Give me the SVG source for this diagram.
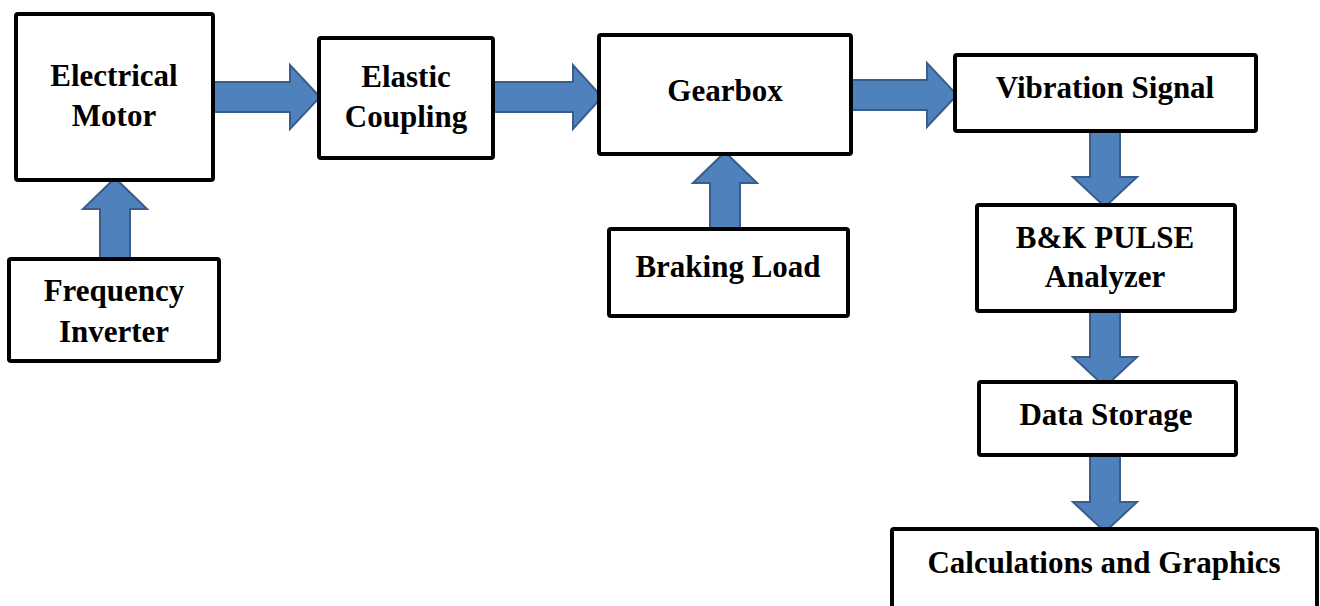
<svg xmlns="http://www.w3.org/2000/svg" width="1320" height="606" viewBox="0 0 1320 606">
<style>
.box{fill:#fff;stroke:#000;stroke-width:4;}
.lbl{font-family:"Liberation Serif","Times New Roman",serif;font-weight:bold;font-size:31px;fill:#000;text-anchor:middle;}
.arr{fill:#4F81BD;stroke:#385D8A;stroke-width:2;stroke-linejoin:miter;}
</style>
<rect width="1320" height="606" fill="#fff"/>
<g id="connectors">
<polygon class="arr" points="213,82 290,82 290,65 320,97 290,129 290,112 213,112"/>
<polygon class="arr" points="493,82 573,82 573,65 602,97 573,129 573,112 493,112"/>
<polygon class="arr" points="850,80 927,80 927,63 957,95 927,127 927,110 850,110"/>
<polygon class="arr" points="100,258 100,209 83,209 115,178 147,209 130,209 130,258"/>
<polygon class="arr" points="710,228 710,183 693,183 725,152 757,183 740,183 740,228"/>
<polygon class="arr" points="1090,132 1120,132 1120,177 1137,177 1105,207 1073,177 1090,177"/>
<polygon class="arr" points="1090,312 1120,312 1120,357 1137,357 1105,387 1073,357 1090,357"/>
<polygon class="arr" points="1090,456 1120,456 1120,502 1137,502 1105,532 1073,502 1090,502"/>
</g>
<g id="motor"><rect class="box" x="16" y="14" width="197" height="166" rx="2"/><text class="lbl" x="114" y="86">Electrical</text><text class="lbl" x="114" y="126">Motor</text></g>
<g id="coupling"><rect class="box" x="319" y="38" width="174" height="120" rx="2"/><text class="lbl" x="406" y="87">Elastic</text><text class="lbl" x="406" y="127">Coupling</text></g>
<g id="gearbox"><rect class="box" x="599" y="35" width="252" height="119" rx="2"/><text class="lbl" x="725" y="101">Gearbox</text></g>
<g id="vibration"><rect class="box" x="955" y="55" width="301" height="76" rx="2"/><text class="lbl" x="1105" y="98">Vibration Signal</text></g>
<g id="inverter"><rect class="box" x="9" y="259" width="210" height="102" rx="2"/><text class="lbl" x="114" y="301">Frequency</text><text class="lbl" x="114" y="342">Inverter</text></g>
<g id="braking"><rect class="box" x="609" y="229" width="239" height="87" rx="2"/><text class="lbl" x="728" y="277">Braking Load</text></g>
<g id="analyzer"><rect class="box" x="977" y="205" width="258" height="106" rx="2"/><text class="lbl" x="1105" y="248">B&amp;K PULSE</text><text class="lbl" x="1105" y="287">Analyzer</text></g>
<g id="storage"><rect class="box" x="979" y="382" width="257" height="73" rx="2"/><text class="lbl" x="1106" y="425">Data Storage</text></g>
<g id="calc"><rect class="box" x="892" y="529" width="425" height="90" rx="2"/><text class="lbl" x="1104" y="573">Calculations and Graphics</text></g>
</svg>
